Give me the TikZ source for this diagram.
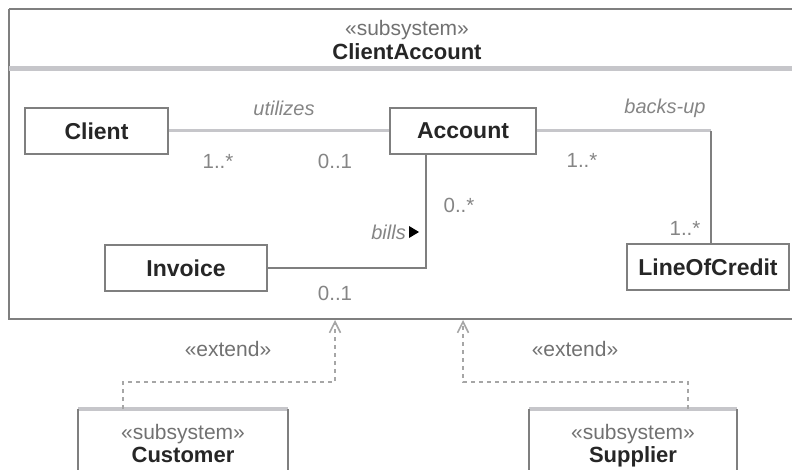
\documentclass[tikz,border=0pt]{standalone}
\usepackage{fontspec}
\setmainfont{Liberation Sans}
\usetikzlibrary{arrows.meta}
\definecolor{boxgray}{HTML}{7F7F7F}
\definecolor{lightline}{HTML}{C6C6CA}
\definecolor{txtdark}{HTML}{262626}
\definecolor{txtgray}{HTML}{858585}
\definecolor{dashgray}{HTML}{A6A6A6}
\begin{document}
\begin{tikzpicture}[x=1pt,y=-1pt,
 cls/.style={draw=boxgray, line width=1.8pt, minimum width=#1, minimum height=46pt, inner sep=0pt, font=\fontsize{23}{25}\selectfont\bfseries, text=txtdark},
 mult/.style={font=\fontsize{20.5}{22}\selectfont, text=txtgray, inner sep=0pt},
 rolelbl/.style={font=\fontsize{20}{22}\selectfont\itshape, text=txtgray, inner sep=0pt},
 stereo/.style={font=\fontsize{21}{23}\selectfont, text=txtgray!85!black, inner sep=0pt},
 subname/.style={font=\fontsize{22}{24}\selectfont\bfseries, text=txtdark, inner sep=0pt},
 assoc/.style={draw=boxgray, line width=1.6pt},
 assocl/.style={draw=lightline, line width=3pt},
 frameline/.style={draw=boxgray, line width=2pt},
 sepline/.style={draw=lightline, line width=5pt},
 subtop/.style={draw=lightline, line width=4pt},
 ext/.style={draw=dashgray, line width=2.4pt, dash pattern=on 4pt off 4pt, -{Straight Barb[length=11pt,width=11pt,line width=1.6pt]}},
]
\useasboundingbox (0,0) rectangle (792,470);
\clip (0,0) rectangle (792,470);

% outer subsystem frame
\node[minimum width=796pt, minimum height=310pt, anchor=north west, inner sep=0pt] (ca) at (9,9) {};
\draw[frameline, line width=2.6pt] (ca.north west) -- (ca.north east);
\draw[frameline] (ca.north west) -- (ca.south west) -- (ca.south east);
\draw[sepline] (ca.west |- 0,69) -- (ca.east |- 0,69);
\node[stereo, anchor=base] (cast) at (407,36) {«subsystem»};
\node[subname, anchor=base] (catitle) at (407,60) {ClientAccount};

% classes
\node[cls=143pt] (client) at (96.5,131) {Client};
\node[cls=146pt] (account) at (463,131) {Account};
\node[cls=162pt] (invoice) at (186,268) {Invoice};
\node[cls=162pt] (loc) at (708,267) {LineOfCredit};

% associations
\draw[assocl] (client) -- (account);
\coordinate (bk) at (711,131);
\draw[assocl] (account.east) -- (bk);
\draw[assoc] (bk) -- (bk |- loc.north);
\draw[assoc] (invoice.east) -| ([xshift=-37pt]account.south);

% labels
\node[rolelbl] (utl) at (284,108) {utilizes};
\node[mult] (m1) at (218,161) {1..*};
\node[mult] (m2) at (335,161) {0..1};
\node[rolelbl] (bku) at (665,108) {backs-up};
\node[mult] (m3) at (582,160) {1..*};
\node[mult] (m4) at (459,205) {0..*};
\node[mult] (m5) at (685,228) {1..*};
\node[mult] (m6) at (335,293) {0..1};
\node[rolelbl, anchor=east] (bills) at (406,232) {bills};
\fill[black] ([xshift=3pt,yshift=6pt]bills.east) -- ([xshift=3pt,yshift=-6pt]bills.east) -- ([xshift=13pt]bills.east) -- cycle;

% extending subsystems
\node[minimum width=210pt, minimum height=80pt, anchor=north, inner sep=0pt] (custbox) at (183,409) {};
\draw[subtop] (custbox.north west) -- (custbox.north east);
\draw[frameline] (custbox.north west) -- (custbox.south west);
\draw[frameline] (custbox.north east) -- (custbox.south east);
\node[stereo, anchor=base] (custst) at (183,439) {«subsystem»};
\node[subname, anchor=base] (custname) at (183,462) {Customer};

\node[minimum width=208pt, minimum height=80pt, anchor=north, inner sep=0pt] (supbox) at (633,409) {};
\draw[subtop] (supbox.north west) -- (supbox.north east);
\draw[frameline] (supbox.north west) -- (supbox.south west);
\draw[frameline] (supbox.north east) -- (supbox.south east);
\node[stereo, anchor=base] (supst) at (633,439) {«subsystem»};
\node[subname, anchor=base] (supname) at (633,462) {Supplier};

% extend dependencies
\coordinate (a1) at (335,320);
\coordinate (k1) at (335,382);
\coordinate (a2) at (463,320);
\coordinate (k2) at (463,382);
\draw[ext] ([xshift=45pt]custbox.north west) |- (k1) -- (a1);
\draw[ext] ([xshift=159pt]supbox.north west) |- (k2) -- (a2);
\node[stereo] (ext1) at (228,349) {«extend»};
\node[stereo] (ext2) at (575,349) {«extend»};
\end{tikzpicture}
\end{document}
